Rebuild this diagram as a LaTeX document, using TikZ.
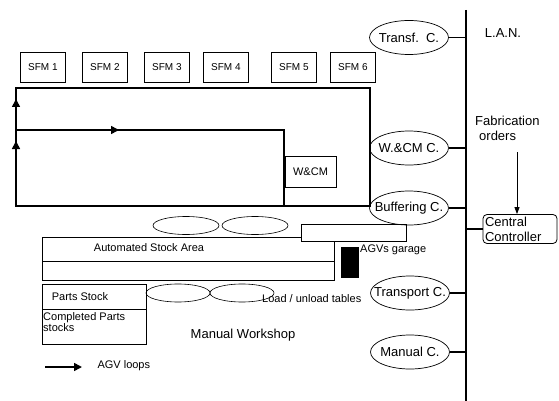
\documentclass[tikz,border=0pt]{standalone}
\usepackage{fontspec}
\setmainfont{Liberation Sans}
\usetikzlibrary{arrows.meta,shapes.geometric}

\tikzset{
  sfmfont/.style={font=\fontsize{10}{11.5}\selectfont},
  smallfont/.style={font=\fontsize{11}{11.5}\selectfont},
  bigfont/.style={font=\fontsize{13}{15}\selectfont},
  sfm/.style={draw, line width=0.8pt, minimum width=45pt, minimum height=30pt,
    inner sep=0pt, anchor=north west, sfmfont},
  ctrl/.style={draw, ellipse, line width=0.7pt, minimum width=79pt,
    minimum height=34pt, inner sep=0pt},
  loop/.style={line width=1.6pt},
  agvtip/.style={-{Triangle[length=8pt,width=8pt]}, line width=1.6pt},
  bus/.style={line width=1.8pt},
  table/.style={draw, ellipse, line width=0.6pt, minimum width=66pt,
    minimum height=18pt, inner sep=0pt}
}

\begin{document}
\begin{tikzpicture}[x=1pt,y=-1pt]
\useasboundingbox (0,0) rectangle (559,401);

% SFM cells
\foreach \x/\n in {20/1,82/2,144/3,203/4,271/5,330/6}
  \node[sfm] (sfm\n) at (\x,52) {SFM \n};

% AGV loops
\draw[loop] (16,206) -- (16,88) -- (370,88) -- (370,206) -- cycle;
\draw[loop] (16,130) -- (284,130) -- (284,206);
\draw[agvtip] (16,112) -- (16,99);
\draw[agvtip] (16,154) -- (16,141);
\draw[agvtip] (100,130) -- (119,130);

\node[draw, line width=0.7pt, minimum width=51pt, minimum height=31pt,
  inner sep=0pt, smallfont] (wcm) at (310.5,171.5) {W\&CM};

% stock areas
\node[table] (tab1) at (186,225.5) {};
\node[table] (tab2) at (255,225.5) {};
\draw[line width=0.7pt] (42,237) rectangle (334,280);
\draw[line width=0.7pt] (42,261) -- (334,261);
\node[smallfont] (asa) at (149,248) {Automated Stock Area};
\node[draw, fill=white, line width=0.7pt, minimum width=105pt,
  minimum height=17pt, inner sep=0pt] (buf) at (353.5,232.5) {};
\node[fill=black, minimum width=18pt, minimum height=31pt, inner sep=0pt]
  (garage) at (350,262.5) {};
\node[smallfont, anchor=west, inner sep=1pt] (garlbl) at (359,250) {AGVs garage};

\draw[line width=0.7pt] (42,284) rectangle (146,344);
\draw[line width=0.7pt] (42,309) -- (146,309);
\node[smallfont] (parts) at (80,297) {Parts Stock};
\node[smallfont, anchor=north west, align=left, inner sep=1pt] (compl)
  at (42,311) {Completed Parts\\stocks};

\node[table, minimum width=64pt] (load1) at (178,293) {};
\node[table, minimum width=64pt] (load2) at (242,293) {};
\node[smallfont, anchor=west, inner sep=0pt] (loadlbl) at (262,299)
  {Load / unload tables};

\node[bigfont] (mws) at (243,335) {Manual Workshop};

% legend
\coordinate (legA) at (45,367);
\coordinate (legB) at (82,367);
\draw[agvtip] (legA) -- (legB);
\node[smallfont, anchor=west] (leglbl) at (94,366) {AGV loops};

% controllers on the LAN
\coordinate (lanT) at (466,10);
\coordinate (lanB) at (466,401);
\draw[bus] (lanT) -- (lanB);
\node[bigfont] (lan) at (503,33) {L.A.N.};

\node[ctrl] (trc) at (409,37.5) {};
\node[bigfont] at (trc) {Transf.\ \ C.};
\node[ctrl] (wcc) at (409,148) {};
\node[bigfont] at (wcc) {W.\&CM C.};
\node[ctrl] (bfc) at (409,208) {};
\node[bigfont] at (bfc) {Buffering C.};
\node[ctrl] (tpc) at (410,293) {};
\node[bigfont] at (tpc) {Transport C.};
\node[ctrl] (mnc) at (410,352) {};
\node[bigfont] at (mnc) {Manual C.};

\foreach \c in {trc,wcc,bfc,tpc,mnc}
  \draw[bus] (\c.east) -- (\c.east -| lanT);

\node[bigfont, align=left, anchor=north west, inner sep=0pt] (fab)
  at (475,116) {Fabrication\\\hspace{4pt}orders};
\node[draw, rounded corners=4pt, line width=0.8pt, minimum width=74pt,
  minimum height=29pt, inner sep=2pt, bigfont, align=left, text width=70pt]
  (cc) at (520,229) {Central\\Controller};
\coordinate (fabend) at (517,152);
\draw[-{Triangle[length=7pt,width=5pt]}, line width=0.8pt] (fabend) -- (fabend |- cc.north);
\draw[bus] (cc.west) -- (cc.west -| lanT);
\end{tikzpicture}
\end{document}
